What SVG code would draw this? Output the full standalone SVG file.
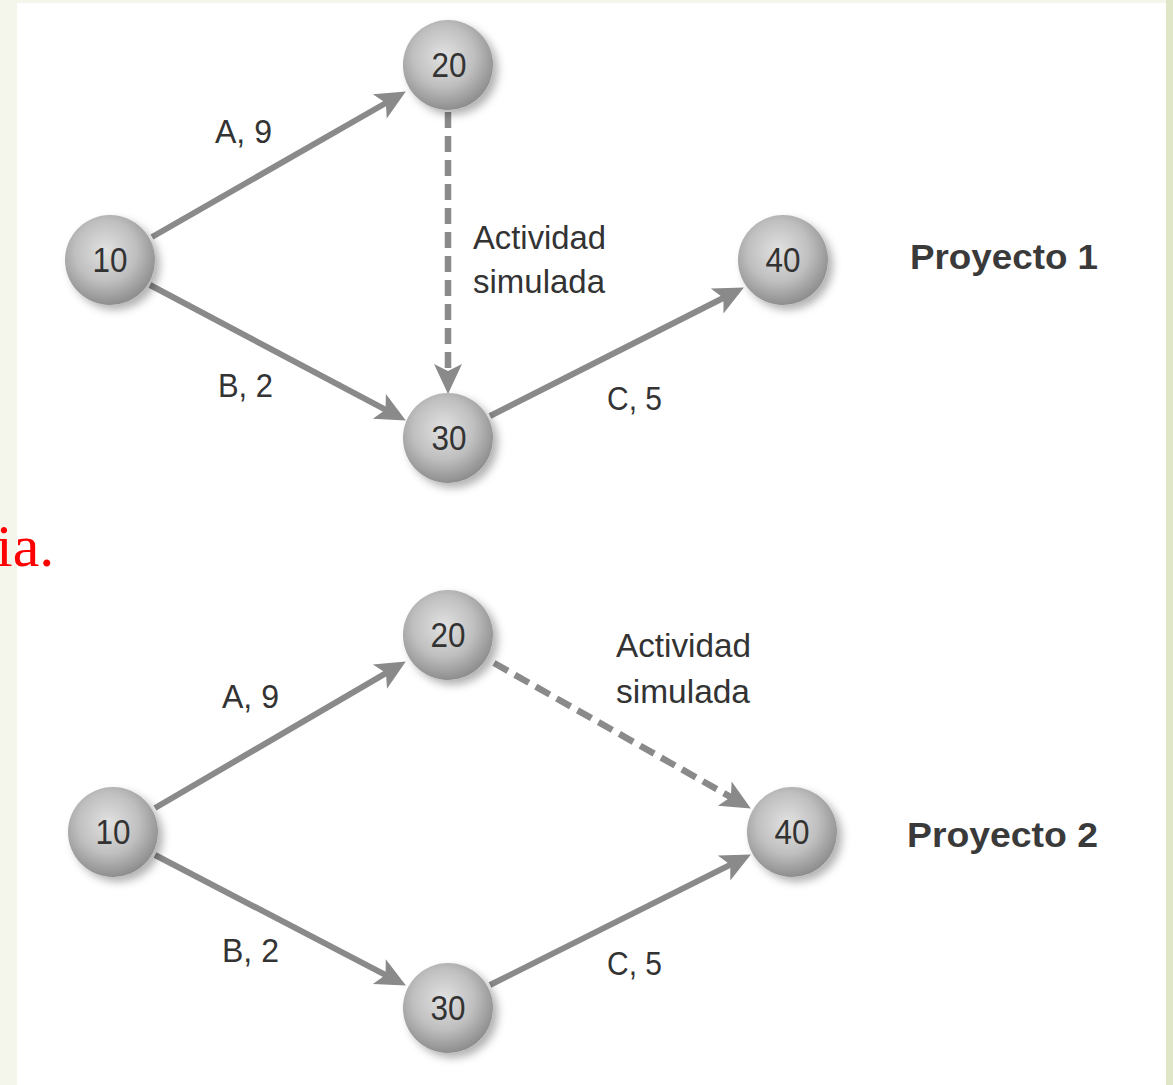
<svg xmlns="http://www.w3.org/2000/svg" width="1173" height="1085" viewBox="0 0 1173 1085">
  <style>
    .edge { fill: none; stroke: #8a8a8a; stroke-width: 6; marker-end: url(#ah); }
    .dash { stroke-dasharray: 16 8; stroke-width: 6.5; }
    .node circle { fill: url(#ball); filter: url(#shadow); }
    .num { font-family: "Liberation Sans", Arial, sans-serif; font-size: 35px; fill: #333; text-anchor: middle; }
    .lbl { font-family: "Liberation Sans", Arial, sans-serif; font-size: 34px; fill: #333; }
    .title { font-family: "Liberation Sans", Arial, sans-serif; font-size: 35px; font-weight: bold; fill: #3a3a3a; }
  </style>
  <defs>
    <radialGradient id="ball" cx="45%" cy="40%" r="62%">
      <stop offset="0" stop-color="#e2e2e2"/>
      <stop offset="0.55" stop-color="#bfbfbf"/>
      <stop offset="1" stop-color="#8a8a8a"/>
    </radialGradient>
    <filter id="shadow" x="-30%" y="-30%" width="170%" height="170%">
      <feDropShadow dx="5" dy="5" stdDeviation="4" flood-color="#000" flood-opacity="0.3"/>
    </filter>
    <marker id="ah" viewBox="0 0 32 30" markerWidth="32" markerHeight="30" refX="10" refY="15" orient="auto" markerUnits="userSpaceOnUse">
      <path d="M31,15 L1,1 L8,15 L1,29 Z" fill="#8a8a8a"/>
    </marker>
  </defs>

  <!-- page background -->
  <rect x="0" y="0" width="1173" height="1085" fill="#f4f6ec"/>
  <rect x="17" y="3" width="1149" height="1082" fill="#ffffff"/>
  <rect x="1166" y="0" width="7" height="1085" fill="#dfe6c8"/>

  <!-- fragment of red caption text -->
  <text x="-4" y="566" font-family="Liberation Serif, serif" font-size="60" fill="#ff0000">ia.</text>

  <!-- connectors -->
  <g id="connectors">
    <line class="edge" x1="152" y1="237" x2="387.6" y2="102"/>
    <line class="edge" x1="150" y1="285" x2="387.3" y2="410.6"/>
    <line class="edge dash" x1="448" y1="112" x2="448" y2="373"/>
    <line class="edge" x1="490" y1="416" x2="725.2" y2="297"/>

    <line class="edge" x1="155" y1="808" x2="387.7" y2="672.1"/>
    <line class="edge" x1="155" y1="855" x2="387.3" y2="975.8"/>
    <line class="edge dash" x1="494" y1="663" x2="732.6" y2="798.1"/>
    <line class="edge" x1="490" y1="985" x2="732.1" y2="863.9"/>
  </g>

  <!-- Proyecto 1 -->
  <g id="p1-n10" class="node"><circle cx="110" cy="260" r="45"/><text class="num" x="110" y="272" textLength="35" lengthAdjust="spacingAndGlyphs">10</text></g>
  <g id="p1-n20" class="node"><circle cx="448" cy="65" r="45"/><text class="num" x="449" y="77" textLength="35" lengthAdjust="spacingAndGlyphs">20</text></g>
  <g id="p1-n30" class="node"><circle cx="448" cy="438" r="45"/><text class="num" x="449" y="450" textLength="35" lengthAdjust="spacingAndGlyphs">30</text></g>
  <g id="p1-n40" class="node"><circle cx="783" cy="260" r="45"/><text class="num" x="783" y="272" textLength="35" lengthAdjust="spacingAndGlyphs">40</text></g>

  <g id="p1-labels">
    <text class="lbl" x="215" y="143" textLength="57" lengthAdjust="spacingAndGlyphs">A, 9</text>
    <text class="lbl" x="473" y="249" textLength="133" lengthAdjust="spacingAndGlyphs">Actividad</text>
    <text class="lbl" x="473" y="293" textLength="132" lengthAdjust="spacingAndGlyphs">simulada</text>
    <text class="lbl" x="218" y="397" textLength="55" lengthAdjust="spacingAndGlyphs">B, 2</text>
    <text class="lbl" x="607" y="410" textLength="55" lengthAdjust="spacingAndGlyphs">C, 5</text>
    <text class="title" x="910" y="269" textLength="188" lengthAdjust="spacingAndGlyphs">Proyecto 1</text>
  </g>

  <!-- Proyecto 2 -->
  <g id="p2-n10" class="node"><circle cx="113" cy="832" r="45"/><text class="num" x="113" y="844" textLength="35" lengthAdjust="spacingAndGlyphs">10</text></g>
  <g id="p2-n20" class="node"><circle cx="448" cy="635" r="45"/><text class="num" x="448" y="647" textLength="35" lengthAdjust="spacingAndGlyphs">20</text></g>
  <g id="p2-n30" class="node"><circle cx="448" cy="1008" r="45"/><text class="num" x="448" y="1020" textLength="35" lengthAdjust="spacingAndGlyphs">30</text></g>
  <g id="p2-n40" class="node"><circle cx="792" cy="832" r="45"/><text class="num" x="792" y="844" textLength="35" lengthAdjust="spacingAndGlyphs">40</text></g>

  <g id="p2-labels">
    <text class="lbl" x="222" y="708" textLength="57" lengthAdjust="spacingAndGlyphs">A, 9</text>
    <text class="lbl" x="616" y="657" textLength="135" lengthAdjust="spacingAndGlyphs">Actividad</text>
    <text class="lbl" x="616" y="703" textLength="134" lengthAdjust="spacingAndGlyphs">simulada</text>
    <text class="lbl" x="222" y="962" textLength="57" lengthAdjust="spacingAndGlyphs">B, 2</text>
    <text class="lbl" x="607" y="975" textLength="55" lengthAdjust="spacingAndGlyphs">C, 5</text>
    <text class="title" x="907" y="847" textLength="191" lengthAdjust="spacingAndGlyphs">Proyecto 2</text>
  </g>
</svg>
